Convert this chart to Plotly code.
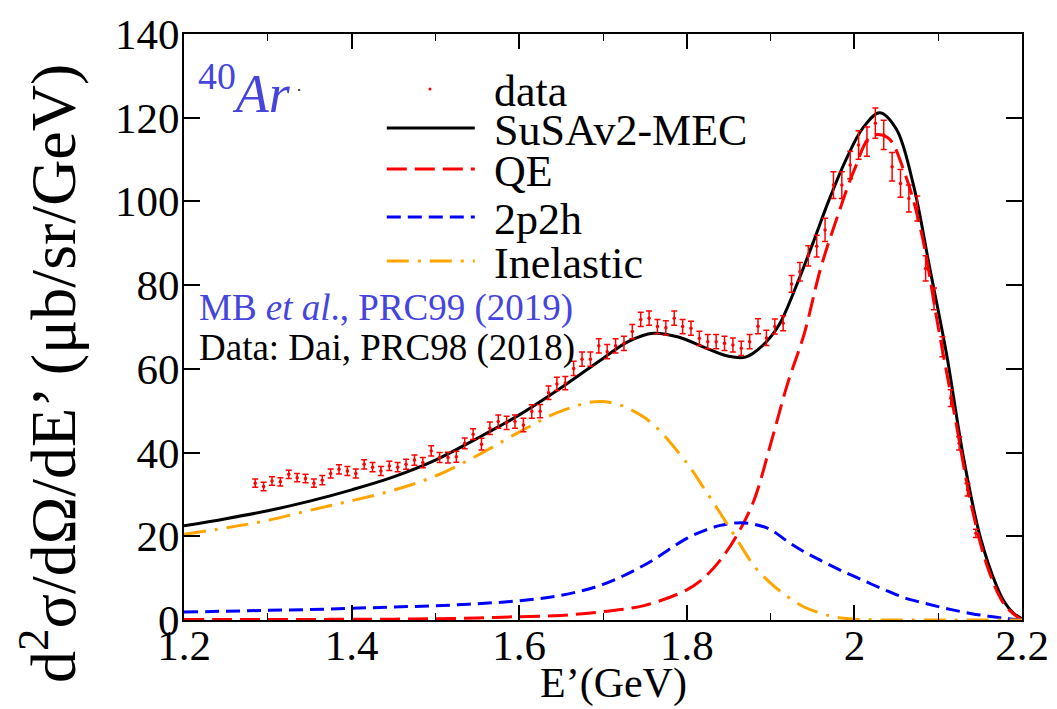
import plotly.graph_objects as go

# ---------------- data ----------------
E_data = [1.285, 1.295, 1.305, 1.315, 1.325, 1.335, 1.345, 1.355, 1.365, 1.375,
          1.385, 1.395, 1.405, 1.415, 1.425, 1.435, 1.445, 1.455, 1.465, 1.475,
          1.485, 1.495, 1.505, 1.515, 1.525, 1.535, 1.545, 1.555, 1.565, 1.575,
          1.585, 1.595, 1.605, 1.615, 1.625, 1.635, 1.645, 1.655, 1.665, 1.675,
          1.685, 1.695, 1.705, 1.715, 1.725, 1.735, 1.745, 1.755, 1.765, 1.775,
          1.785, 1.795, 1.805, 1.815, 1.825, 1.835, 1.845, 1.855, 1.865, 1.875,
          1.885, 1.895, 1.905, 1.915, 1.925, 1.935, 1.945, 1.955, 1.965, 1.975,
          1.985, 1.995, 2.005, 2.015, 2.025, 2.035, 2.045, 2.055, 2.065, 2.075,
          2.085, 2.095, 2.105, 2.115, 2.125, 2.135, 2.145]
xs_data = [32.7, 31.9, 33.2, 33.0, 34.8, 34.0, 33.8, 32.7, 33.4, 35.0,
           36.0, 35.6, 35.0, 37.2, 36.5, 35.6, 36.8, 36.5, 37.2, 38.2,
           37.6, 40.4, 38.8, 38.8, 39.0, 42.2, 44.4, 42.0, 45.8, 47.4,
           47.1, 47.4, 46.6, 49.8, 49.9, 54.3, 56.4, 56.6, 60.1, 62.3,
           62.3, 65.5, 64.1, 65.5, 66.1, 68.9, 71.8, 72.1, 70.1, 69.8,
           72.1, 70.1, 69.7, 67.3, 66.5, 66.5, 66.1, 65.7, 64.9, 66.5,
           70.2, 67.4, 70.1, 70.9, 80.3, 83.2, 87.0, 89.3, 93.2, 103.9,
           103.9, 108.7, 113.5, 114.3, 118.7, 115.9, 108.3, 104.3, 100.7, 98.3,
           84.0, 76.7, 65.3, 53.0, 42.2, 31.1, 20.7]
err_data = [1.0, 1.0, 1.0, 1.0, 1.0, 1.0, 1.0, 1.0, 1.1, 1.1,
            1.1, 1.1, 1.1, 1.1, 1.1, 1.1, 1.1, 1.1, 1.2, 1.2,
            1.2, 1.2, 1.2, 1.3, 1.3, 1.3, 1.3, 1.4, 1.5, 1.6,
            1.6, 1.6, 1.6, 1.6, 1.6, 1.6, 1.6, 1.6, 1.7, 1.7,
            1.7, 1.7, 1.7, 1.7, 1.7, 1.7, 1.7, 1.7, 1.7, 1.7,
            1.7, 1.7, 1.7, 1.7, 1.7, 1.7, 1.7, 1.7, 1.7, 1.7,
            1.8, 1.8, 1.8, 1.8, 2.0, 2.2, 2.4, 2.6, 2.8, 3.2,
            3.2, 3.3, 3.4, 3.5, 3.6, 3.5, 3.4, 3.3, 3.2, 3.0,
            3.0, 2.6, 2.4, 2.0, 1.6, 1.5, 1.0]

E_total = [1.20, 1.25, 1.30, 1.35, 1.40, 1.45, 1.50, 1.55, 1.60, 1.65,
           1.70, 1.73, 1.76, 1.79, 1.82, 1.85, 1.87, 1.89, 1.91, 1.93,
           1.95, 1.97, 1.99, 2.01, 2.03, 2.05, 2.07, 2.09, 2.11, 2.13,
           2.15, 2.17, 2.18, 2.19, 2.20]
xs_total = [22.5, 24.2, 26.1, 28.4, 31.1, 34.2, 38.2, 43.4, 49.0, 55.5,
            62.5, 66.5, 68.5, 67.6, 65.2, 63.0, 62.8, 65.5, 70.5, 79.5,
            89.8, 100.5, 110.0, 117.5, 121.2, 117.3, 104.3, 84.0, 63.5, 39.0,
            20.0, 8.0, 4.0, 1.6, 0.3]

E_comp = [1.20, 1.25, 1.30, 1.35, 1.40, 1.45, 1.50, 1.55, 1.60, 1.65,
          1.70, 1.75, 1.80, 1.82, 1.84, 1.86, 1.88, 1.90, 1.92, 1.94,
          1.96, 1.98, 2.00, 2.02, 2.04, 2.06, 2.08, 2.10, 2.12, 2.14,
          2.16, 2.18, 2.20]
xs_qe = [0.1, 0.1, 0.1, 0.1, 0.2, 0.2, 0.3, 0.5, 0.8, 1.1,
         2.0, 3.5, 7.2, 10.0, 14.3, 20.3, 28.5, 42.0, 56.3, 68.3,
         84.2, 96.5, 107.6, 115.6, 115.2, 106.8, 92.5, 70.0, 48.5, 27.0,
         12.0, 3.4, 0.0]
xs_2p2h = [1.9, 2.1, 2.3, 2.5, 2.8, 3.1, 3.4, 3.9, 4.6, 5.9,
           8.5, 13.2, 19.5, 21.3, 22.6, 23.2, 22.9, 21.6, 18.8, 16.3,
           14.2, 12.2, 10.4, 8.6, 6.9, 5.3, 4.2, 3.2, 2.3, 1.5,
           0.9, 0.4, 0.0]
xs_inel = [20.5, 22.0, 23.8, 26.2, 28.5, 31.0, 34.4, 39.3, 44.9, 49.9,
           52.2, 48.3, 37.5, 31.6, 25.5, 19.2, 13.0, 8.8, 5.6, 3.1,
           1.6, 0.6, 0.2, 0.05, 0.0, 0.0, 0.0, 0.0, 0.0, 0.0,
           0.0, 0.0, 0.0]

x_ticks = [1.2, 1.4, 1.6, 1.8, 2.0, 2.2]
x_tick_text = ["1.2", "1.4", "1.6", "1.8", "2", "2.2"]
y_ticks = [0, 20, 40, 60, 80, 100, 120, 140]

legend_names = ["data", "SuSAv2-MEC", "QE", "2p2h", "Inelastic"]

# ---------------- styles ----------------
FONT = "Liberation Serif, Times New Roman, serif"
BLUE_TXT = "#4545dd"
RED = "#ff0000"
BLUE = "#0000ff"
ORANGE = "#ffa500"
DASH_QE = "20px,8px"
DASH_2P2H = "14px,7px"
DASH_INEL = "22px,9px,3px,9px"

fig = go.Figure()

fig.add_trace(go.Scatter(x=E_total, y=xs_total, mode="lines", line_shape="spline",
                         line=dict(color="black", width=3), showlegend=False))
fig.add_trace(go.Scatter(x=E_comp, y=xs_qe, mode="lines", line_shape="spline",
                         line=dict(color=RED, width=3, dash=DASH_QE), showlegend=False))
fig.add_trace(go.Scatter(x=E_comp, y=xs_2p2h, mode="lines", line_shape="spline",
                         line=dict(color=BLUE, width=3, dash=DASH_2P2H), showlegend=False))
fig.add_trace(go.Scatter(x=E_comp, y=xs_inel, mode="lines", line_shape="spline",
                         line=dict(color=ORANGE, width=3, dash=DASH_INEL), showlegend=False))
fig.add_trace(go.Scatter(x=E_data, y=xs_data, mode="markers",
                         marker=dict(color=RED, size=3.5),
                         error_y=dict(type="data", array=err_data, color=RED,
                                      thickness=1.5, width=3),
                         showlegend=False))

# ---------------- manual legend ----------------
leg_y = [0.906, 0.8396, 0.7696, 0.6877, 0.6126]
lx0, lx1, ltx = 0.242, 0.347, 0.3675
styles = [None, ("black", "solid"), (RED, DASH_QE), (BLUE, DASH_2P2H), (ORANGE, DASH_INEL)]
for name, yy, st in zip(legend_names, leg_y, styles):
    if st is None:
        fig.add_shape(type="circle", xref="paper", yref="paper",
                      x0=0.2935 - 0.0018, x1=0.2935 + 0.0018,
                      y0=yy - 0.0026, y1=yy + 0.0026,
                      fillcolor=RED, line=dict(color=RED, width=0))
    else:
        fig.add_shape(type="line", xref="paper", yref="paper",
                      x0=lx0, x1=lx1, y0=yy, y1=yy,
                      line=dict(color=st[0], width=3, dash=st[1]))
    fig.add_annotation(x=ltx, y=yy - 0.004, xref="paper", yref="paper", text=name,
                       showarrow=False, xanchor="left", yanchor="middle",
                       font=dict(family=FONT, size=44, color="black"))

# ---------------- annotations ----------------
fig.add_annotation(x=0.014, y=0.905, xref="paper", yref="paper",
                   text="<sup>40</sup><i>Ar</i>", showarrow=False,
                   xanchor="left", yanchor="middle",
                   font=dict(family=FONT, size=54, color=BLUE_TXT))
fig.add_annotation(x=0.133, y=0.912, xref="paper", yref="paper", text=".",
                   showarrow=False, xanchor="left", yanchor="middle",
                   font=dict(family=FONT, size=16, color="black"))
fig.add_annotation(x=0.016, y=0.533, xref="paper", yref="paper",
                   text="MB <i>et al</i>., PRC99 (2019)", showarrow=False,
                   xanchor="left", yanchor="middle",
                   font=dict(family=FONT, size=37, color=BLUE_TXT))
fig.add_annotation(x=0.016, y=0.465, xref="paper", yref="paper",
                   text="Data: Dai, PRC98 (2018)", showarrow=False,
                   xanchor="left", yanchor="middle",
                   font=dict(family=FONT, size=37, color="black"))

# axis titles
fig.add_annotation(x=0.512, y=-0.108, xref="paper", yref="paper",
                   text="E’(GeV)", showarrow=False, xanchor="center", yanchor="middle",
                   font=dict(family=FONT, size=42, color="black"))
fig.add_annotation(x=-0.161, y=0.42, xref="paper", yref="paper",
                   text="d<sup>2</sup>σ/dΩ/dE’ (μb/sr/GeV)", textangle=-90,
                   showarrow=False, xanchor="center", yanchor="middle",
                   font=dict(family=FONT, size=64, color="black"))

axis_common = dict(showgrid=False, zeroline=False, showline=True, linecolor="black",
                   linewidth=2, mirror="ticks", ticks="inside", tickcolor="black",
                   tickwidth=1.5, automargin=False,
                   tickfont=dict(family=FONT, size=43, color="black"))

fig.update_xaxes(range=[1.2, 2.2], tickvals=x_ticks, ticktext=x_tick_text,
                 ticklen=15, ticklabelstandoff=-14,
                 minor=dict(dtick=0.1, tick0=1.2, ticks="inside", ticklen=7,
                            tickcolor="black", tickwidth=1),
                 **axis_common)
fig.update_yaxes(range=[0, 140], tickvals=y_ticks, ticklen=16, ticklabelstandoff=-6,
                 **axis_common)

fig.update_layout(width=1057, height=709,
                  margin=dict(l=176, r=43, t=26, b=97, autoexpand=False),
                  paper_bgcolor="white", plot_bgcolor="white",
                  showlegend=False)

fig.write_html("out.html")
